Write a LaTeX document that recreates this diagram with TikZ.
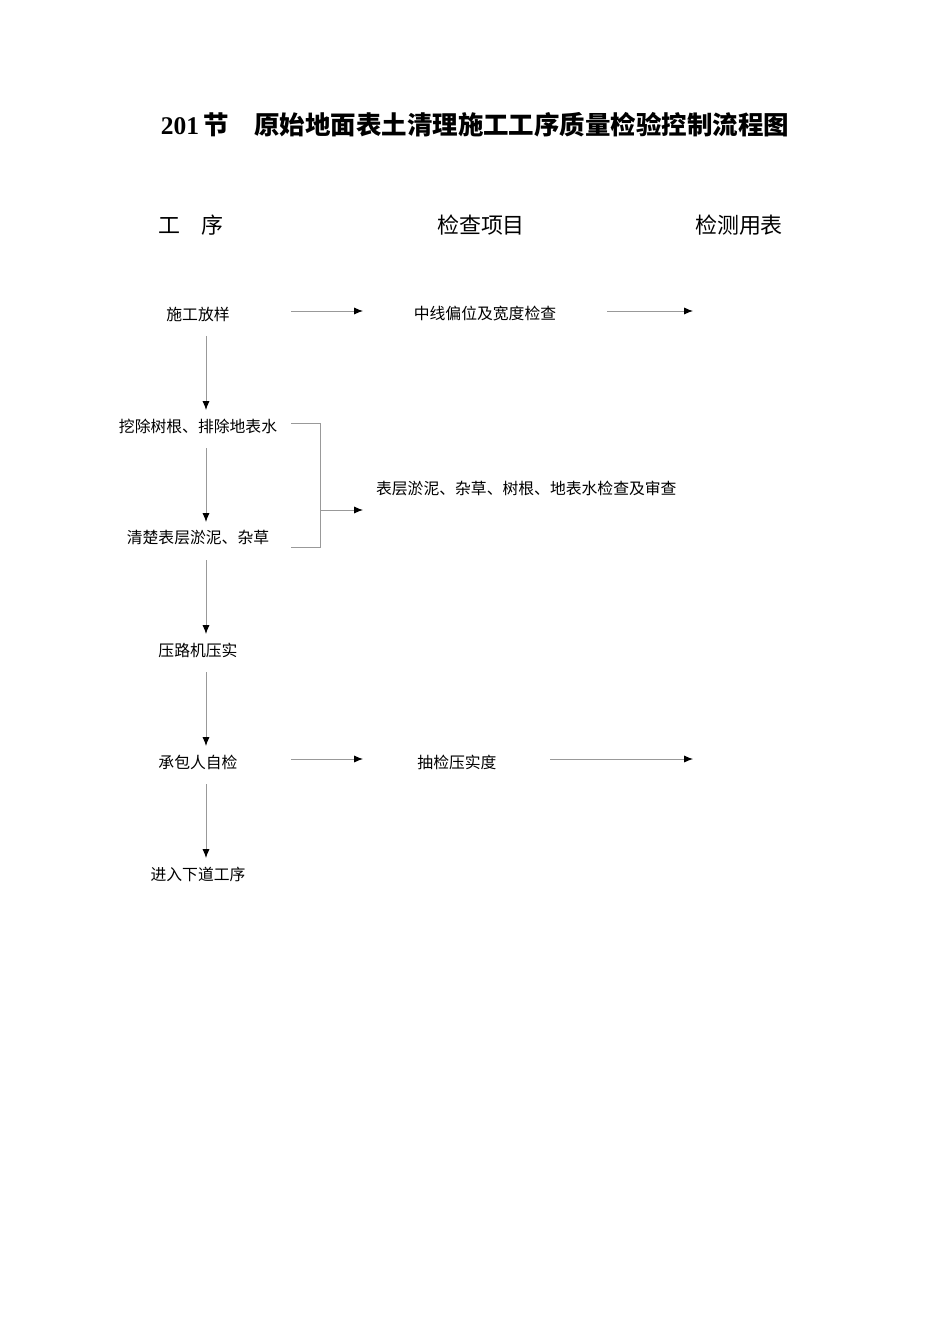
\documentclass[tikz,border=0pt]{standalone}
\usepackage{fontspec}
\setmainfont{Liberation Serif}
\newfontfamily\cjk{Noto Sans CJK SC}
\usetikzlibrary{arrows.meta}
\begin{document}
\begin{tikzpicture}[x=0.02cm,y=-0.02cm,
  lbl/.style={font=\cjk\fontsize{9}{10}\selectfont,inner sep=1pt},
  hdr/.style={font=\cjk\fontsize{12.5}{14}\selectfont},
  arr/.style={draw=gray!80,line width=0.5pt,-{Latex[length=5pt,width=4pt,black]}},
  ln/.style={draw=gray!80,line width=0.5pt}]
\useasboundingbox (0,0) rectangle (950,1344);
\node (title) at (475,125) {\bfseries\fontsize{14.5}{16}\selectfont 201\,{\cjk 节}\quad{\cjk 原始地面表土清理施工工序质量检验控制流程图}};
\node[hdr] (h1) at (191,225) {工\quad 序};
\node[hdr] (h2) at (481,225) {检查项目};
\node[hdr] (h3) at (739,225) {检测用表};
\node[lbl] (s1) at (198,314) {施工放样};
\node[lbl] (s2) at (198,426) {挖除树根、排除地表水};
\node[lbl] (s3) at (198,538) {清楚表层淤泥、杂草};
\node[lbl] (s4) at (198,650) {压路机压实};
\node[lbl] (s5) at (198,762) {承包人自检};
\node[lbl] (s6) at (198,874) {进入下道工序};
\node[lbl] (c1) at (485,314) {中线偏位及宽度检查};
\node[lbl,anchor=west] (c2) at (374,489) {表层淤泥、杂草、树根、地表水检查及审查};
\node[lbl] (c3) at (457,762) {抽检压实度};
\foreach \a/\b/\ya/\yb in {s1/s2/336/410,s2/s3/448/522,s3/s4/560/634,s4/s5/672/746,s5/s6/784/858}
  \draw[arr] (206,\ya) -- (206,\yb);
\coordinate (e1) at (693,311);
\coordinate (e3) at (693,759);
\draw[arr] (291,311) -- (363,311);
\draw[arr] (607,311) -- (e1);
\draw[arr] (291,759) -- (363,759);
\draw[arr] (550,759) -- (e3);
\draw[ln] (291,423) -- (320,423) -- (320,547) -- (291,547);
\draw[arr] (320,510) -- (363,510);
\end{tikzpicture}
\end{document}
